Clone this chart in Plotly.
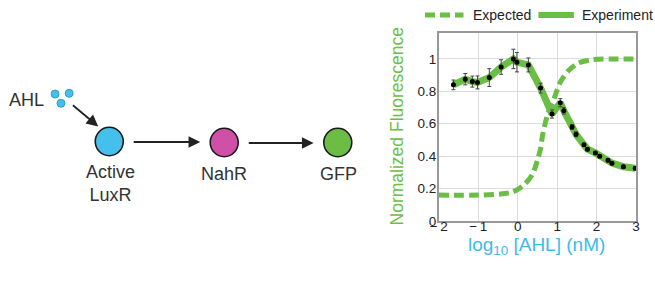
import plotly.graph_objects as go

# ---------------- data ----------------
exp_x = [-1.63, -1.33, -1.15, -1.02, -0.72, -0.42, -0.11, -0.02, 0.27, 0.58, 0.87,
         1.08, 1.17, 1.38, 1.48, 1.68, 1.77, 1.97, 2.08, 2.29, 2.39, 2.68, 2.98]
exp_y = [0.84, 0.875, 0.86, 0.855, 0.885, 0.95, 1.0, 0.98, 0.963, 0.82, 0.66,
         0.73, 0.68, 0.58, 0.535, 0.47, 0.443, 0.42, 0.40, 0.375, 0.357, 0.335, 0.325]
exp_err = [0.03, 0.035, 0.034, 0.04, 0.055, 0.045, 0.06, 0.06, 0.043, 0.03, 0.025,
           0.025, 0.02, 0.015, 0.015, 0.01, 0.01, 0.01, 0.01, 0.01, 0.01, 0.01, 0.01]

pred_x = [-2.0, -1.0, -0.42, -0.12, 0.17, 0.38, 0.5, 0.58, 0.63, 0.75, 0.92,
          1.08, 1.29, 1.54, 1.92, 2.5, 3.0]
pred_y = [0.16, 0.16, 0.167, 0.18, 0.225, 0.29, 0.375, 0.446, 0.528, 0.65, 0.754,
          0.857, 0.928, 0.975, 0.996, 1.0, 1.0]

x_tickvals = [-2, -1, 0, 1, 2, 3]
x_ticktext = ["\u2212\u20092", "\u2212\u20091", "0", "1", "2", "3"]
y_tickvals = [0, 0.2, 0.4, 0.6, 0.8, 1.0]

series_names = ["Expected", "Experiment"]

# diagram (pixel coordinates in the left panel)
node_names = ["Active<br>LuxR", "NahR", "GFP"]
node_x = [101.7, 218.3, 333.5]
node_y = [141.5, 142.5, 142.5]
node_colors = ["#45c0ec", "#d04fa7", "#6cbd45"]
ahl_dot_x = [46.7, 61.0, 52.7]
ahl_dot_y = [94.0, 93.3, 103.3]

GREEN = "#6abd45"
CYAN = "#3dbbe9"
FONT = "Arial, Liberation Sans, sans-serif"
PRED_DASH = "10px,5px"

fig = go.Figure()

fig.add_trace(go.Scatter(
    x=pred_x, y=pred_y, mode="lines", name=series_names[0], showlegend=False,
    line=dict(color=GREEN, width=5, dash=PRED_DASH, shape="spline", smoothing=0.8),
))
fig.add_trace(go.Scatter(
    x=exp_x, y=exp_y, mode="lines", name=series_names[1], showlegend=False,
    line=dict(color=GREEN, width=7),
))
fig.add_trace(go.Scatter(
    x=exp_x, y=exp_y, mode="markers", showlegend=False, name=series_names[1],
    marker=dict(color="black", size=5),
    error_y=dict(type="data", array=exp_err, color="#444", thickness=1, width=2),
))

W, H = 655, 283
ML, MR, MT, MB = 0, 19, 33, 62
PW = W - ML - MR          # 636
PH = H - MT - MB          # 188
plot_left_px = 436
diag_right_px = 375


def px_x(p):
    return (p - ML) / PW


def px_y(p):
    return (MT + PH - p) / PH


fig.update_layout(
    width=W, height=H,
    margin=dict(l=ML, r=MR, t=MT, b=MB),
    paper_bgcolor="white", plot_bgcolor="white",
    font=dict(family=FONT, size=13, color="#222"),
    xaxis=dict(domain=[plot_left_px / PW, 1], range=[-2, 3],
               tickvals=x_tickvals, ticktext=x_ticktext,
               showgrid=True, gridcolor="#dcdcdc", gridwidth=1,
               showline=True, linecolor="#999", linewidth=1.5, mirror=True,
               zeroline=False, ticks="", ticklabelstandoff=-8,
               tickfont=dict(size=13.5, color="#222")),
    yaxis=dict(domain=[0, 1], range=[0, 1.16],
               tickvals=y_tickvals,
               showgrid=True, gridcolor="#dcdcdc", gridwidth=1,
               showline=True, linecolor="#999", linewidth=1.5, mirror=True,
               zeroline=False, ticks="", ticklabelstandoff=-2,
               tickfont=dict(size=13.5, color="#222")),
    xaxis2=dict(domain=[0, diag_right_px / PW], range=[0, diag_right_px],
                visible=False, anchor="y2"),
    yaxis2=dict(domain=[0, 1], range=[MT + PH, MT], visible=False, anchor="x2"),
    showlegend=False,
)

shapes = []
annotations = []
# nodes
for cx, cy, col in zip(node_x, node_y, node_colors):
    r = 14.2
    shapes.append(dict(type="circle", xref="x2", yref="y2",
                       x0=cx - r, x1=cx + r, y0=cy - r, y1=cy + r,
                       fillcolor=col, line=dict(color="#1a1a1a", width=1.6)))
for cx, cy in zip(ahl_dot_x, ahl_dot_y):
    r = 4.0
    shapes.append(dict(type="circle", xref="x2", yref="y2",
                       x0=cx - r, x1=cx + r, y0=cy - r, y1=cy + r,
                       fillcolor="#45c0ec", line=dict(color="#2a9fc9", width=1)))

# labels
annotations.append(dict(xref="x2", yref="y2", x=node_x[0] + 1, y=183, text=node_names[0],
                        showarrow=False, font=dict(size=18, color="#333"),
                        align="center"))
annotations.append(dict(xref="x2", yref="y2", x=node_x[1], y=174, text=node_names[1],
                        showarrow=False, font=dict(size=18, color="#333")))
annotations.append(dict(xref="x2", yref="y2", x=node_x[2] + 1, y=174, text=node_names[2],
                        showarrow=False, font=dict(size=18, color="#333")))
annotations.append(dict(xref="x2", yref="y2", x=18, y=100, text="AHL", xanchor="center",
                        showarrow=False, font=dict(size=18, color="#333")))

# arrows
arrow_specs = [((63.3, 104.0), (90.5, 126.5)),
               ((125.0, 142.0), (194.0, 142.0)),
               ((241.7, 143.0), (309.0, 143.0))]
for (tx, ty), (hx, hy) in arrow_specs:
    annotations.append(dict(xref="x2", yref="y2", axref="x2", ayref="y2",
                            x=hx, y=hy, ax=tx, ay=ty, text="", showarrow=True,
                            arrowhead=2, arrowsize=1.3, arrowwidth=1.8,
                            arrowcolor="#222", standoff=0, startstandoff=0))

# legend (drawn manually for exact placement)
leg_y = 15
shapes.append(dict(type="line", xref="paper", yref="paper",
                   x0=px_x(422), x1=px_x(461), y0=px_y(leg_y), y1=px_y(leg_y),
                   line=dict(color=GREEN, width=5, dash=PRED_DASH)))
shapes.append(dict(type="line", xref="paper", yref="paper",
                   x0=px_x(537), x1=px_x(573), y0=px_y(leg_y), y1=px_y(leg_y),
                   line=dict(color=GREEN, width=6)))
annotations.append(dict(xref="paper", yref="paper", x=px_x(469), y=px_y(leg_y),
                        text=series_names[0], showarrow=False, xanchor="left",
                        yanchor="middle", font=dict(size=14, color="#222")))
annotations.append(dict(xref="paper", yref="paper", x=px_x(579), y=px_y(leg_y),
                        text=series_names[1], showarrow=False, xanchor="left",
                        yanchor="middle", font=dict(size=14, color="#222")))

# axis titles
annotations.append(dict(xref="paper", yref="paper", x=px_x(394), y=px_y(126),
                        text="Normalized Fluorescence", textangle=-90, showarrow=False,
                        font=dict(size=17.5, color="#6cbf44"),
                        xanchor="center", yanchor="middle"))
annotations.append(dict(xref="paper", yref="paper", x=px_x(535), y=px_y(246),
                        text="log<sub>10</sub> [AHL] (nM)", showarrow=False,
                        font=dict(size=19, color=CYAN),
                        xanchor="center", yanchor="middle"))

fig.update_layout(shapes=shapes, annotations=annotations)

fig.write_html("out.html")
